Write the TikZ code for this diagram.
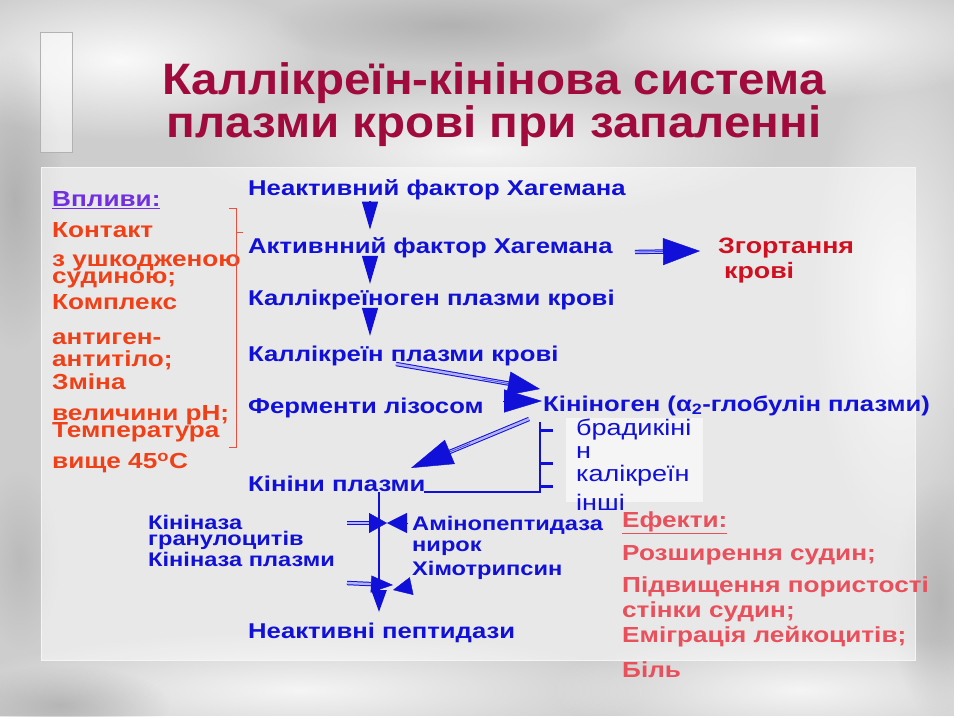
\documentclass[tikz,border=0pt]{standalone}
\usepackage{fontspec}
\setmainfont{Liberation Sans}
\newfontfamily\bfam[FakeStretch=1.2]{Liberation Sans}
\newfontfamily\tfam[FakeStretch=1.08]{Liberation Sans}
\usetikzlibrary{arrows.meta,fadings,calc}
\definecolor{bgc}{HTML}{CDCDCD}
\definecolor{kblue}{HTML}{1010D8}
\definecolor{kred}{HTML}{F04018}
\definecolor{kpurple}{HTML}{7030E0}
\definecolor{ttl}{HTML}{A00A3C}
\definecolor{zred}{HTML}{D01020}
\definecolor{eff}{HTML}{E8505C}
\definecolor{brk}{HTML}{E85040}
\tikzfading[name=softc, inner color=transparent!0, outer color=transparent!100]
\tikzset{
  bt/.style={font=\bfam\bfseries\fontsize{21.4}{24}\selectfont, text=kblue, anchor=west, inner sep=0pt},
  bts/.style={font=\bfam\bfseries\fontsize{19.7}{22}\selectfont, text=kblue, anchor=west, inner sep=0pt},
  lt/.style={font=\bfam\bfseries\fontsize{21.8}{24}\selectfont, text=kred, anchor=west, inner sep=0pt},
  et/.style={font=\bfam\bfseries\fontsize{21.8}{24}\selectfont, text=eff, anchor=west, inner sep=0pt},
  zt/.style={font=\bfam\bfseries\fontsize{22.3}{24}\selectfont, text=zred, anchor=west, inner sep=0pt},
  rt/.style={font=\bfam\fontsize{22.5}{24}\selectfont, text=kblue, anchor=west, inner sep=0pt},
  ttlstyle/.style={font=\tfam\bfseries\fontsize{44}{46}\selectfont, text=ttl, inner sep=0pt},
  chainarr/.style={draw=kblue, line width=1.2pt, -{Triangle[length=28pt,width=16pt]}},
  dblshaft/.style={draw=kblue, line width=1pt, double=blue!30!white, double distance=2.4pt},
  blob/.style={fill=white, path fading=softc},
  dblob/.style={fill=gray!75, path fading=softc},
}
\begin{document}
\begin{tikzpicture}[x=1pt,y=-1pt]
\useasboundingbox (0,0) rectangle (954,716);
\begin{scope}
\clip (0,0) rectangle (954,716);
% background marble
\fill[bgc] (0,0) rectangle (954,716);
\fill[blob, opacity=0.9] (120,60) ellipse (200pt and 80pt);
\fill[blob, opacity=0.8] (480,150) ellipse (300pt and 70pt);
\fill[blob, opacity=0.9] (800,40) ellipse (220pt and 60pt);
\fill[blob, opacity=0.7] (900,300) ellipse (90pt and 250pt);
\fill[blob, opacity=0.8] (300,690) ellipse (350pt and 60pt);
\fill[blob, opacity=0.8] (800,690) ellipse (250pt and 60pt);
\fill[dblob, opacity=0.6] (15,200) ellipse (50pt and 150pt);
\fill[dblob, opacity=0.6] (450,25) ellipse (180pt and 40pt);
\fill[dblob, opacity=0.5] (940,600) ellipse (50pt and 120pt);
\fill[dblob, opacity=0.6] (60,705) ellipse (110pt and 40pt);
\fill[dblob, opacity=0.4] (20,560) ellipse (40pt and 90pt);
\end{scope}
% left bar
\fill[white, opacity=0.55] (40,32) rectangle (72,152);
\draw[gray!60, line width=0.6pt] (40,32) rectangle (72,152);
% panel
\fill[white, opacity=0.55] (41,167) rectangle (915,660);
\draw[white!92!gray, line width=0.8pt] (41,167) rectangle (915,660);

% title
\node[ttlstyle] (t1) at (494,83) {Каллікреїн-кінінова система};
\node[ttlstyle] (t2) at (494,126) {плазми крові при запаленні};

% left column
\node[lt, text=kpurple] (vp) at (52,200) {\underline{Впливи:}};
\node[lt] (l1) at (52,230) {Контакт};
\node[lt] (l2) at (52,263) {з ушкодженою};
\node[lt] (l3) at (52,280) {судиною;};
\node[lt] (l4) at (52,302) {Комплекс};
\node[lt] (l5) at (52,339) {антиген-};
\node[lt] (l6) at (52,360) {антитіло;};
\node[lt] (l7) at (52,382) {Зміна};
\node[lt] (l8) at (52,415) {величини pH;};
\node[lt] (l9) at (52,432) {Температура};
\node[lt] (l10) at (52,463) {вище 45\textsuperscript{o}C};
% bracket
\draw[brk, line width=0.9pt] (229,208) -- (236,208) -- (236,447) -- (229,447);
\draw[brk, line width=0.9pt] (236,232) -- (243,232);

% main chain
\node[bt] (n1) at (248,190) {Неактивний фактор Хагемана};
\node[bt] (n2) at (248,248) {Активнний фактор Хагемана};
\node[bt] (n3) at (248,300) {Каллікреїноген плазми крові};
\node[bt] (n4) at (248,356) {Каллікреїн плазми крові};
\node[bt] (n5) at (248,408) {Ферменти лізосом};
\node[bt] (kin) at (543,406) {Кініноген (α\textsubscript{2}-глобулін плазми)};
\node[bt] (n7) at (248,484) {Кініни плазми};
\node[bt] (n8) at (248,633) {Неактивні пептидази};
\node[zt] (zg) at (718,248) {Згортання};
\node[zt] (zg2) at (724,273) {крові};

\coordinate (ax) at (370,0);
\draw[chainarr, shorten <=1pt, shorten >=8pt] (n1.south -| ax) -- (n2.north -| ax);
\draw[chainarr, shorten <=1pt, shorten >=6pt] (n2.south -| ax) -- (n3.north -| ax);
\draw[chainarr, shorten <=1pt, shorten >=10pt] (n3.south -| ax) -- (n4.north -| ax);

% Hageman -> coagulation
\coordinate (hA) at (635,252);
\coordinate (hB) at (700,251);
\draw[dblshaft, shorten >=30pt] (hA) -- (hB);
\draw[kblue, line width=0.4pt, -{Triangle[length=37pt,width=27pt]}] (hA) -- (hB);

% kallikrein -> kininogen
\coordinate (kA) at (396,364);
\coordinate (kB) at (540,389);
\draw[dblshaft, shorten >=26pt] (kA) -- (kB);
\draw[kblue, line width=0.4pt, -{Triangle[length=32pt,width=24pt]}] ($(kA)!0.6!(kB)$) -- (kB);

% ferments -> kininogen
\coordinate (fA) at (503,401);
\coordinate (fB) at (542,401);
\draw[kblue, line width=0.4pt, -{Triangle[length=38pt,width=23pt]}] (fA) -- (fB);

% kininogen -> kinins
\coordinate (gA) at (529,419);
\coordinate (gB) at (411,468);
\draw[dblshaft, shorten >=32pt] (gA) -- (gB);
\draw[kblue, line width=0.4pt, -{Triangle[length=42pt,width=26pt]}] ($(gA)!0.5!(gB)$) -- (gB);

% kinins bracket to products
\coordinate (kc) at (424,492);
\coordinate (kd) at (540,492);
\coordinate (ke) at (540,422);
\draw[kblue, line width=2pt] (kc) -- (kd) -- (ke);
\draw[kblue, line width=3pt] (540,430) -- (553,430);
\draw[kblue, line width=3pt] (540,463) -- (553,463);
\draw[kblue, line width=3pt] (540,486) -- (553,486);

% products box
\fill[white!93!gray, opacity=0.95] (566,418) rectangle (703,502);
\node[rt] (p1) at (576,430) {брадикіні};
\node[rt] (p2) at (576,453) {н};
\node[rt] (p3) at (576,476) {калікреїн};
\node[rt] (p4) at (576,502) {інші};

% kininases
\node[bts] (k1) at (148,522) {Кініназа};
\node[bts] (k2) at (148,540) {гранулоцитів};
\node[bts] (k3) at (148,559) {Кініназа плазми};
\node[bts] (a1) at (412,525) {Амінопептидаза};
\node[bts] (a2) at (412,548) {нирок};
\node[bts] (a3) at (412,570) {Хімотрипсин};

\coordinate (vA) at (379,492);
\coordinate (vB) at (379,612);
\draw[kblue, line width=2.5pt, -{Triangle[length=22pt,width=15pt]}] (vA) -- (vB);

% bowtie 1
\coordinate (b1a) at (347,523);
\coordinate (b1t) at (387,523);
\coordinate (b1r) at (408,523);
\draw[dblshaft, shorten >=18pt] (b1a) -- (b1t);
\draw[kblue, line width=0.4pt, -{Triangle[length=18pt,width=20pt]}] ($(b1a)!0.6!(b1t)$) -- (b1t);
\draw[kblue, line width=0.4pt, -{Triangle[length=20pt,width=20pt]}] (b1r) -- (b1t);
% bowtie 2
\coordinate (b2a) at (347,583);
\coordinate (b2t) at (393,585);
\coordinate (b2r) at (412,586);
\coordinate (b2s) at (393,590);
\draw[dblshaft, shorten >=22pt] (b2a) -- (b2t);
\draw[kblue, line width=0.4pt, -{Triangle[length=22pt,width=17pt]}] ($(b2a)!0.6!(b2t)$) -- (b2t);
\draw[kblue, line width=0.4pt, -{Triangle[length=19pt,width=18pt]}] (b2r) -- (b2s);

% effects
\node[et] (e0) at (622,523) {\underline{Ефекти:}};
\node[et] (e1) at (622,555) {Розширення судин;};
\node[et] (e2) at (622,587) {Підвищення пористості};
\node[et] (e3) at (622,612) {стінки судин;};
\node[et] (e4) at (622,637) {Еміграція лейкоцитів;};
\node[et] (e5) at (622,670) {Біль};
\end{tikzpicture}
\end{document}
